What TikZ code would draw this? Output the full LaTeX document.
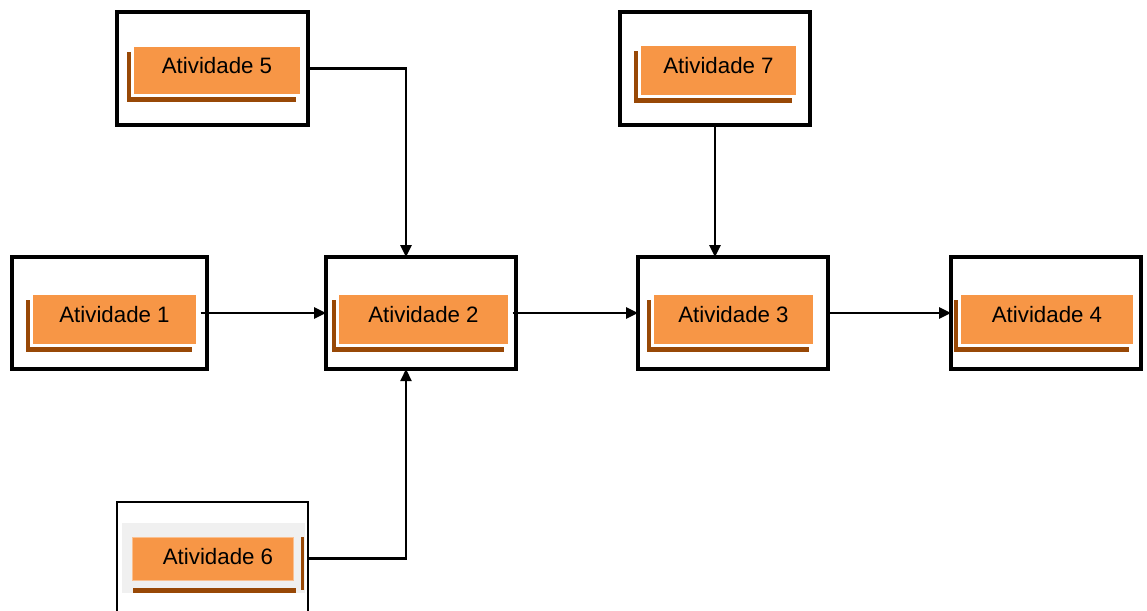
\documentclass[tikz,border=0pt]{standalone}
\usepackage{fontspec}
\setmainfont{Liberation Sans}
\usetikzlibrary{arrows.meta,shadows}
\definecolor{acorange}{HTML}{F79646}
\definecolor{acbrown}{HTML}{984806}
\definecolor{acframe}{HTML}{F0F0F0}
\tikzset{
  outerbox/.style={draw=black, line width=3.2pt, fill=white, minimum width=190pt, minimum height=112pt, inner sep=0pt, outer sep=0pt},
  innerbox/.style={draw=white, line width=3pt, fill=acorange, minimum height=52pt, inner sep=0pt, outer sep=0pt,
    font=\fontsize{22.3}{24}\selectfont, text depth=10pt,
    drop shadow={shadow xshift=-5.5pt, shadow yshift=-6.5pt, fill=acbrown, opacity=1}},
  conn/.style={draw=black, line width=2.6pt, -{Triangle[length=12pt,width=11pt]}},
}
\begin{document}
\begin{tikzpicture}[x=1pt,y=-1pt]
\useasboundingbox (0,0) rectangle (1147,610);
% outer boxes
\node[outerbox, minimum width=195pt] (b1) at (109.5,313) {};
\node[outerbox] (b2) at (421,313) {};
\node[outerbox] (b3) at (733,313) {};
\node[outerbox] (b4) at (1046,313) {};
\node[outerbox, minimum width=191pt, minimum height=113pt] (b5) at (212.5,68.5) {};
\node[outerbox, minimum height=113pt] (b7) at (715,68.5) {};
\node[outerbox, line width=1.4pt, minimum width=191pt, minimum height=130pt] (b6) at (212.5,567) {};
% inner activity blocks
\node[innerbox, minimum width=166pt] (a1) at (114.5,319.5) {Atividade 1};
\node[innerbox, minimum width=172pt] (a2) at (423.5,319.5) {Atividade 2};
\node[innerbox, minimum width=162pt] (a3) at (733.5,319.5) {Atividade 3};
\node[innerbox, minimum width=175pt] (a4) at (1047,319.5) {Atividade 4};
\node[innerbox, minimum width=169pt, minimum height=50pt] (a5) at (217,70.5) {Atividade 5};
\node[innerbox, minimum width=158pt] (a7) at (718.5,70.5) {Atividade 7};
% activity 6 (different look)
\node[fill=acframe, minimum width=183pt, minimum height=70pt, inner sep=0pt] (g6) at (213.5,558) {};
\fill[acbrown] (133,588) rectangle (296,593);
\fill[acbrown] (301,537) rectangle (303.5,590);
\node[fill=acorange, draw=acorange!60, line width=0.6pt, minimum width=161pt, minimum height=43pt, inner sep=0pt,
  font=\fontsize{22.3}{24}\selectfont, text depth=5pt] (a6) at (212.5,558.5) {\hspace*{11pt}Atividade 6};
% connectors
\draw[conn] ([xshift=3pt]a1.east |- b1.east) -- (b2.west);
\draw[conn] ([xshift=3pt]a2.east |- b2.east) -- (b3.west);
\draw[conn] (b3.east) -- (b4.west);
\coordinate (t2) at ([xshift=-15pt]b2.north);
\coordinate (s2) at ([xshift=-15pt]b2.south);
\draw[conn] (b5.east) -| (t2);
\draw[conn] (b7.south) -- (b7.south |- b3.north);
\draw[conn, line width=2.2pt] (a6.east -| b6.east) -| (s2);
\end{tikzpicture}
\end{document}
